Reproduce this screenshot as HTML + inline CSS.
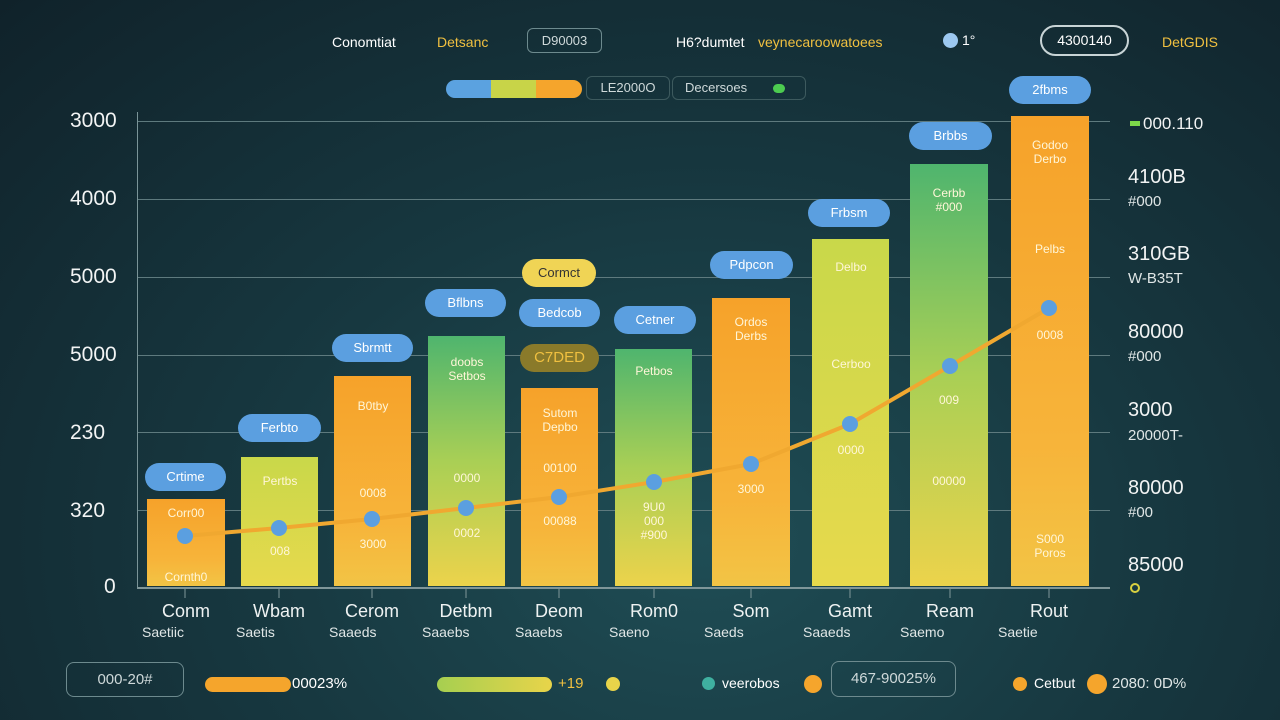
<!DOCTYPE html>
<html><head><meta charset="utf-8"><style>
*{margin:0;padding:0;box-sizing:border-box}
body{width:1280px;height:720px;overflow:hidden;font-family:"Liberation Sans",sans-serif;background:radial-gradient(ellipse at 55% 75%,#1f4d55 0%,#173840 45%,#10222a 100%);position:relative;color:#e8eef0}
.a{position:absolute;white-space:nowrap}
.bar{position:absolute;bottom:134px}
.or{background:linear-gradient(#f6a22a,#f7b43a 70%,#f2c445)}
.yg{background:linear-gradient(#c9d84a,#e7d94c)}
.gy{background:linear-gradient(#4fb56e,#a9cf55 50%,#ecd34b)}
.pill{position:absolute;background:#5b9fe0;border-radius:14px;height:28px;font-size:13px;color:#fff;text-align:center;line-height:28px}
.grid{position:absolute;left:137px;width:973px;height:1px;background:#5e7a7e}
.yl{position:absolute;font-size:21px;color:#f2f4f4;left:70px}
.rl{position:absolute;font-size:20px;color:#f2f4f4;left:1128px}
.rs{position:absolute;font-size:15px;color:#dfe6e6;left:1128px}
.bt{position:absolute;font-size:12px;color:#fff6d8;text-align:center;width:78px}
.xl{position:absolute;font-size:18px;color:#eef2f2;text-align:center;width:100px}
.xs{position:absolute;font-size:14px;color:#dfe6e6}
</style></head><body>
<div class="a" style="left:332px;top:34px;font-size:14px;color:#fff">Conomtiat</div>
<div class="a" style="left:437px;top:34px;font-size:14px;color:#f0c040">Detsanc</div>
<div class="a" style="left:527px;top:28px;width:75px;height:25px;border:1px solid #6d8a8e;border-radius:6px;font-size:13px;line-height:23px;text-align:center;color:#cfd9da">D90003</div>
<div class="a" style="left:676px;top:34px;font-size:14px;color:#fff">H6?dumtet</div>
<div class="a" style="left:758px;top:34px;font-size:14px;color:#f0c040">veynecaroowatoees</div>
<div class="a" style="left:943px;top:33px;width:15px;height:15px;border-radius:50%;background:#9cc8f0"></div>
<div class="a" style="left:962px;top:32px;font-size:14px;color:#fff">1°</div>
<div class="a" style="left:1040px;top:25px;width:89px;height:31px;border:2px solid #c8d4d6;border-radius:16px;font-size:14px;line-height:27px;text-align:center;color:#fff">4300140</div>
<div class="a" style="left:1162px;top:34px;font-size:14px;color:#f0c040">DetGDIS</div>
<div class="a" style="left:446px;top:80px;width:136px;height:18px;border-radius:9px;background:linear-gradient(90deg,#5ba2e0 0 33%,#c8d448 33% 66%,#f5a52c 66%)"></div>
<div class="a" style="left:586px;top:76px;width:84px;height:24px;border:1px solid #3d5a5e;border-radius:6px;font-size:13px;line-height:22px;text-align:center;color:#cfd9da">LE2000O</div>
<div class="a" style="left:672px;top:76px;width:134px;height:24px;border:1px solid #3d5a5e;border-radius:6px;font-size:13px;line-height:22px;padding-left:12px;color:#cfd9da">Decersoes</div>
<div class="a" style="left:773px;top:84px;width:12px;height:9px;border-radius:5px;background:#4ccc50"></div>

<div class="grid" style="top:121px"></div><div class="grid" style="top:199px"></div><div class="grid" style="top:277px"></div><div class="grid" style="top:355px"></div><div class="grid" style="top:432px"></div><div class="grid" style="top:510px"></div><div class="grid" style="top:587px;height:2px;background:#7f9699"></div>
<div class="a" style="left:137px;top:112px;width:1px;height:476px;background:#7a9498"></div>
<div class="yl" style="top:109px">3000</div><div class="yl" style="top:187px">4000</div><div class="yl" style="top:265px">5000</div><div class="yl" style="top:343px">5000</div><div class="yl" style="top:421px">230</div><div class="yl" style="top:499px">320</div><div class="yl" style="top:575px;left:104px">0</div>

<div class="bar or" style="left:147px;width:78px;height:87px"></div>
<div class="bar yg" style="left:241px;width:77px;height:129px"></div>
<div class="bar or" style="left:334px;width:77px;height:210px"></div>
<div class="bar gy" style="left:428px;width:77px;height:250px"></div>
<div class="bar or" style="left:521px;width:77px;height:198px"></div>
<div class="bar gy" style="left:615px;width:77px;height:237px"></div>
<div class="bar or" style="left:712px;width:78px;height:288px"></div>
<div class="bar yg" style="left:812px;width:77px;height:347px"></div>
<div class="bar gy" style="left:910px;width:78px;height:422px"></div>
<div class="bar or" style="left:1011px;width:78px;height:470px"></div>

<div class="pill" style="left:145px;top:463px;width:81px">Crtime</div>
<div class="pill" style="left:238px;top:414px;width:83px">Ferbto</div>
<div class="pill" style="left:332px;top:334px;width:81px">Sbrmtt</div>
<div class="pill" style="left:425px;top:289px;width:81px">Bflbns</div>
<div class="pill" style="left:522px;top:259px;width:74px;background:#f0d455;color:#333">Cormct</div>
<div class="pill" style="left:519px;top:299px;width:81px">Bedcob</div>
<div class="pill" style="left:520px;top:344px;width:79px;background:#8a7a2a;color:#f0c040;font-size:15px">C7DED</div>
<div class="pill" style="left:614px;top:306px;width:82px">Cetner</div>
<div class="pill" style="left:710px;top:251px;width:83px">Pdpcon</div>
<div class="pill" style="left:808px;top:199px;width:82px">Frbsm</div>
<div class="pill" style="left:909px;top:122px;width:83px">Brbbs</div>
<div class="pill" style="left:1009px;top:76px;width:82px">2fbms</div>

<div class="bt" style="left:147px;top:506px">Corr00</div><div class="bt" style="left:147px;top:570px">Cornth0</div>
<div class="bt" style="left:241px;top:474px">Pertbs</div><div class="bt" style="left:241px;top:544px">008</div>
<div class="bt" style="left:334px;top:399px">B0tby</div><div class="bt" style="left:334px;top:486px">0008</div><div class="bt" style="left:334px;top:537px">3000</div>
<div class="bt" style="left:428px;top:355px">doobs<br>Setbos</div><div class="bt" style="left:428px;top:471px">0000</div><div class="bt" style="left:428px;top:526px">0002</div>
<div class="bt" style="left:521px;top:406px">Sutom<br>Depbo</div><div class="bt" style="left:521px;top:461px">00100</div><div class="bt" style="left:521px;top:514px">00088</div>
<div class="bt" style="left:615px;top:364px">Petbos</div><div class="bt" style="left:615px;top:500px">9U0<br>000<br>#900</div>
<div class="bt" style="left:712px;top:315px">Ordos<br>Derbs</div><div class="bt" style="left:712px;top:482px">3000</div>
<div class="bt" style="left:812px;top:260px">Delbo</div><div class="bt" style="left:812px;top:357px">Cerboo</div><div class="bt" style="left:812px;top:443px">0000</div>
<div class="bt" style="left:910px;top:186px">Cerbb<br>#000</div><div class="bt" style="left:910px;top:393px">009</div><div class="bt" style="left:910px;top:474px">00000</div>
<div class="bt" style="left:1011px;top:138px">Godoo<br>Derbo</div><div class="bt" style="left:1011px;top:242px">Pelbs</div><div class="bt" style="left:1011px;top:328px">0008</div><div class="bt" style="left:1011px;top:532px">S000<br>Poros</div>

<svg class="a" style="left:0;top:0" width="1280" height="720">
<polyline points="185,536 279,528 372,519 466,508 559,497 654,482 751,464 850,424 950,366 1049,308" fill="none" stroke="#f0a830" stroke-width="4" stroke-linejoin="round"/>
<g fill="#5b9fe0">
<circle cx="185" cy="536" r="8"/><circle cx="279" cy="528" r="8"/><circle cx="372" cy="519" r="8"/><circle cx="466" cy="508" r="8"/><circle cx="559" cy="497" r="8"/><circle cx="654" cy="482" r="8"/><circle cx="751" cy="464" r="8"/><circle cx="850" cy="424" r="8"/><circle cx="950" cy="366" r="8"/><circle cx="1049" cy="308" r="8"/></g>
<g stroke="#7f9699" stroke-width="1"><line x1="185" y1="589" x2="185" y2="598"/><line x1="279" y1="589" x2="279" y2="598"/><line x1="372" y1="589" x2="372" y2="598"/><line x1="466" y1="589" x2="466" y2="598"/><line x1="559" y1="589" x2="559" y2="598"/><line x1="654" y1="589" x2="654" y2="598"/><line x1="751" y1="589" x2="751" y2="598"/><line x1="850" y1="589" x2="850" y2="598"/><line x1="950" y1="589" x2="950" y2="598"/><line x1="1049" y1="589" x2="1049" y2="598"/></g>
</svg>

<div class="xl" style="left:136px;top:601px">Conm</div><div class="xs" style="left:142px;top:624px">Saetiic</div>
<div class="xl" style="left:229px;top:601px">Wbam</div><div class="xs" style="left:236px;top:624px">Saetis</div>
<div class="xl" style="left:322px;top:601px">Cerom</div><div class="xs" style="left:329px;top:624px">Saaeds</div>
<div class="xl" style="left:416px;top:601px">Detbm</div><div class="xs" style="left:422px;top:624px">Saaebs</div>
<div class="xl" style="left:509px;top:601px">Deom</div><div class="xs" style="left:515px;top:624px">Saaebs</div>
<div class="xl" style="left:604px;top:601px">Rom0</div><div class="xs" style="left:609px;top:624px">Saeno</div>
<div class="xl" style="left:701px;top:601px">Som</div><div class="xs" style="left:704px;top:624px">Saeds</div>
<div class="xl" style="left:800px;top:601px">Gamt</div><div class="xs" style="left:803px;top:624px">Saaeds</div>
<div class="xl" style="left:900px;top:601px">Ream</div><div class="xs" style="left:900px;top:624px">Saemo</div>
<div class="xl" style="left:999px;top:601px">Rout</div><div class="xs" style="left:998px;top:624px">Saetie</div>

<div class="rl" style="left:1143px;top:114px;font-size:17px">000.110</div><div class="a" style="left:1130px;top:121px;width:10px;height:5px;background:#7dd84a"></div>
<div class="rl" style="top:166px">4100B</div><div class="rs" style="top:193px">#000</div>
<div class="rl" style="top:243px">310GB</div><div class="rs" style="top:270px">W-B35T</div>
<div class="rl" style="top:321px">80000</div><div class="rs" style="top:348px">#000</div>
<div class="rl" style="top:399px">3000</div><div class="rs" style="top:427px">20000T-</div>
<div class="rl" style="top:477px">80000</div><div class="rs" style="top:504px">#00</div>
<div class="rl" style="top:554px">85000</div><div class="a" style="left:1130px;top:583px;width:10px;height:10px;border:2px solid #d8d040;border-radius:50%"></div>

<div class="a" style="left:66px;top:662px;width:118px;height:35px;border:1px solid #6d8a8e;border-radius:8px;font-size:15px;line-height:33px;text-align:center;color:#cfd9da">000-20#</div>
<div class="a" style="left:205px;top:677px;width:86px;height:15px;border-radius:8px;background:#f5a52c"></div>
<div class="a" style="left:292px;top:675px;font-size:15px;color:#fff">00023%</div>
<div class="a" style="left:437px;top:677px;width:115px;height:15px;border-radius:8px;background:linear-gradient(90deg,#a6cf50,#e8d44a)"></div>
<div class="a" style="left:558px;top:675px;font-size:15px;color:#f0c040">+19</div>
<div class="a" style="left:606px;top:677px;width:14px;height:14px;border-radius:50%;background:#e8d44a"></div>
<div class="a" style="left:702px;top:677px;width:13px;height:13px;border-radius:50%;background:#3fb0a0"></div>
<div class="a" style="left:722px;top:675px;font-size:14px;color:#fff">veerobos</div>
<div class="a" style="left:804px;top:675px;width:18px;height:18px;border-radius:50%;background:#f5a52c"></div>
<div class="a" style="left:831px;top:661px;width:125px;height:36px;border:1px solid #6d8a8e;border-radius:8px;font-size:15px;line-height:34px;text-align:center;color:#cfd9da">467-90025%</div>
<div class="a" style="left:1013px;top:677px;width:14px;height:14px;border-radius:50%;background:#f5a52c"></div>
<div class="a" style="left:1034px;top:675px;font-size:14px;color:#fff">Cetbut</div>
<div class="a" style="left:1087px;top:674px;width:20px;height:20px;border-radius:50%;background:#f5a52c"></div>
<div class="a" style="left:1112px;top:675px;font-size:15px;color:#dfe6e6">2080: 0D%</div>
</body></html>
